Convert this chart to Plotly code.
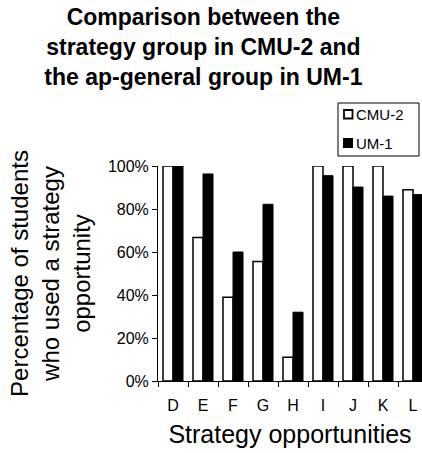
import plotly.graph_objects as go

categories = ["D", "E", "F", "G", "H", "I", "J", "K", "L"]
cmu2 = [1.00, 0.667, 0.389, 0.556, 0.111, 1.00, 1.00, 1.00, 0.889]
um1 = [1.00, 0.963, 0.60, 0.822, 0.32, 0.955, 0.902, 0.86, 0.867]
series_names = ["CMU-2", "UM-1"]
yticks = [0, 0.2, 0.4, 0.6, 0.8, 1.0]
ytick_labels = ["0%", "20%", "40%", "60%", "80%", "100%"]

FONT = "Liberation Sans, Arial, sans-serif"
W, H = 422, 453
ML, MR, MT, MB = 158, 0, 166, 72
PW, PH = W - ML - MR, H - MT - MB


def px_x(x):
    return (x - ML) / PW


def px_y(y):
    return (H - MB - y) / PH


fig = go.Figure()
fig.add_trace(go.Bar(
    x=categories, y=cmu2, name=series_names[0],
    marker=dict(color="white", line=dict(color="black", width=1.5)),
))
fig.add_trace(go.Bar(
    x=categories, y=um1, name=series_names[1],
    marker=dict(color="black", line=dict(color="black", width=1)),
))

# Legend (drawn as a framed box like the original)
shapes = [
    dict(type="rect", xref="paper", yref="paper",
         x0=px_x(338), x1=px_x(419), y0=px_y(156), y1=px_y(103),
         line=dict(color="black", width=1), fillcolor="white", layer="above"),
    dict(type="rect", xref="paper", yref="paper",
         x0=px_x(344), x1=px_x(352.5), y0=px_y(118.5), y1=px_y(110),
         line=dict(color="black", width=1.8), fillcolor="white", layer="above"),
    dict(type="rect", xref="paper", yref="paper",
         x0=px_x(343), x1=px_x(353), y0=px_y(148), y1=px_y(138),
         line=dict(color="black", width=0), fillcolor="black", layer="above"),
]
annotations = [
    dict(text=series_names[0], xref="paper", yref="paper", x=px_x(354), y=px_y(114.5),
         xanchor="left", yanchor="middle", showarrow=False,
         font=dict(size=15, family=FONT, color="black")),
    dict(text=series_names[1], xref="paper", yref="paper", x=px_x(354), y=px_y(143.5),
         xanchor="left", yanchor="middle", showarrow=False,
         font=dict(size=15, family=FONT, color="black")),
]

fig.update_layout(
    width=W, height=H,
    margin=dict(l=ML, r=MR, t=MT, b=MB, pad=0, autoexpand=False),
    paper_bgcolor="white", plot_bgcolor="white",
    font=dict(family=FONT, color="black"),
    barmode="group", bargap=0.333, bargroupgap=0,
    title=dict(
        text="<b>Comparison between the<br>strategy group in CMU-2 and<br>the ap-general group in UM-1</b>",
        font=dict(size=23, family=FONT, color="black"),
        x=0.482, xref="container", xanchor="center",
        y=1 - 25/453, yref="container", yanchor="middle",
    ),
    showlegend=False,
    shapes=shapes,
    annotations=annotations,
    xaxis=dict(
        type="category", range=[-0.5, 8.3], automargin=False,
        showline=True, linecolor="black", linewidth=1,
        ticks="outside", tickson="boundaries", ticklen=5, tickcolor="black",
        tickfont=dict(size=16, family=FONT), tickangle=0, ticklabelstandoff=10,
        title=dict(text="Strategy opportunities", font=dict(size=25, family=FONT), standoff=12),
        showgrid=False, zeroline=False,
    ),
    yaxis=dict(
        range=[0, 1], tickvals=yticks, ticktext=ytick_labels, automargin=False,
        showline=True, linecolor="black", linewidth=1,
        ticks="outside", ticklen=5, tickcolor="black",
        tickfont=dict(size=16, family=FONT),
        title=dict(text="Percentage of students<br>who used a strategy<br>opportunity",
                   font=dict(size=24, family=FONT), standoff=10),
        showgrid=False, zeroline=False,
    ),
)

fig.write_html(
    "out.html",
    config={"displayModeBar": False},
    post_script="document.body.style.margin='0';document.body.style.padding='0';",
)
